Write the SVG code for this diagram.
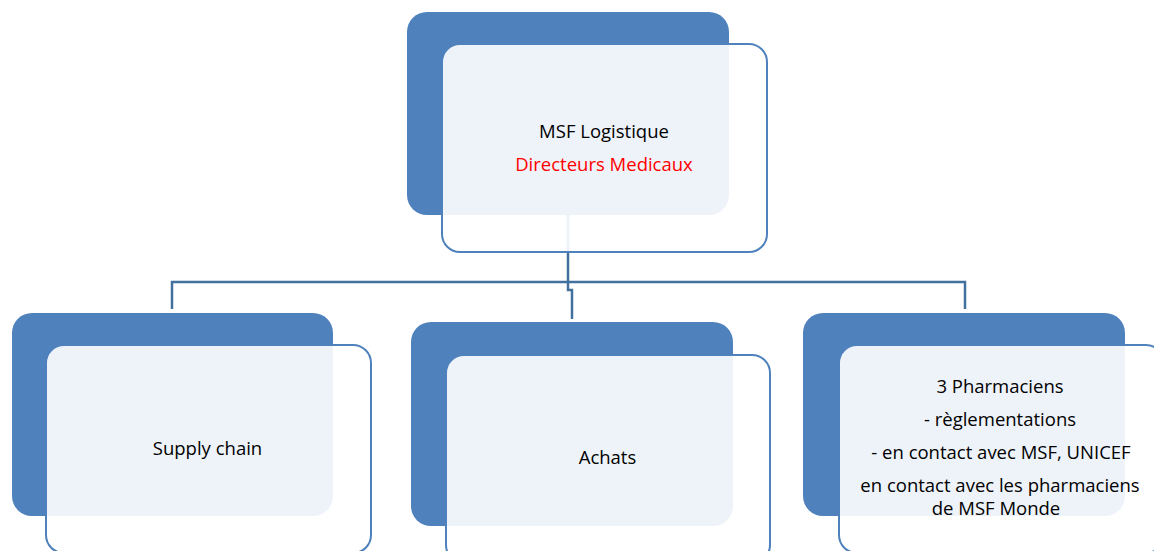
<svg xmlns="http://www.w3.org/2000/svg" width="1154" height="551" viewBox="0 0 1154 551">
<style>
.back{fill:#4F81BD;}
.front{fill:#FFFFFF;fill-opacity:0.9;stroke:#4F81BD;stroke-width:2;}
.conn{fill:none;stroke:#41719C;stroke-width:2.5;}
text{font-family:"Open Sans","Liberation Sans",sans-serif;font-size:18.5px;fill:#000000;text-anchor:middle;}
.red{fill:#FF0000;}
</style>
<rect width="1154" height="551" fill="#FFFFFF"/>
<g id="connectors">
<path class="conn" d="M568,214 V282"/>
<path class="conn" d="M172,309 V282 H965 V309"/>
<path class="conn" d="M568,282 V290 H572 V319"/>
</g>
<g id="node-top">
<rect class="back" x="407" y="12" width="322" height="203" rx="20"/>
<rect class="front" x="442" y="44" width="325" height="208" rx="18"/>
<text x="604" y="138">MSF Logistique</text>
<text class="red" x="604" y="171">Directeurs Medicaux</text>
</g>
<g id="node-supply">
<rect class="back" x="12" y="313" width="321" height="203" rx="20"/>
<rect class="front" x="46" y="345" width="325" height="208" rx="18"/>
<text x="207.5" y="455">Supply chain</text>
</g>
<g id="node-achats">
<rect class="back" x="411" y="322" width="322" height="204" rx="20"/>
<rect class="front" x="446" y="355" width="324" height="208" rx="18"/>
<text x="607.5" y="464">Achats</text>
</g>
<g id="node-pharma">
<rect class="back" x="803" y="313" width="322" height="203" rx="20"/>
<rect class="front" x="839" y="345" width="325" height="208" rx="18"/>
<text x="1000" y="393">3 Pharmaciens</text>
<text x="1000" y="426">- règlementations</text>
<text x="1001" y="459">- en contact avec MSF, UNICEF</text>
<text x="1000" y="492">en contact avec les pharmaciens</text>
<text x="996" y="515">de MSF Monde</text>
</g>
</svg>
